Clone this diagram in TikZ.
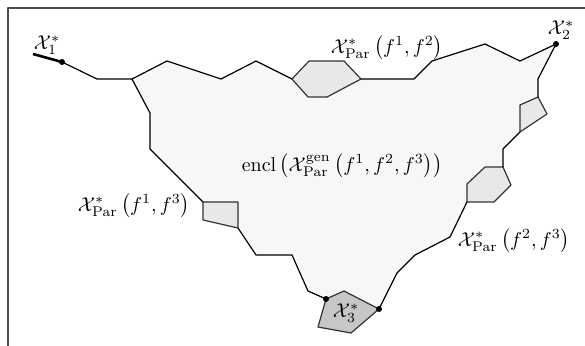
\documentclass[tikz,border=0pt]{standalone}
\begin{document}
\begin{tikzpicture}[x=0.5pt,y=-0.5pt,line join=round,
  edge/.style={line width=0.6pt,black},
  piece/.style={draw=black!80,line width=0.6pt,fill=black!9},
  dotmark/.style={circle,fill=black,inner sep=0pt,minimum size=3pt},
  lab/.style={inner sep=0pt}]
\useasboundingbox (0,0) rectangle (585,345);
\clip (0,0) rectangle (585,345);
\draw[black!70,line width=0.6pt] (8,8) rectangle (600,360);
% key points
\coordinate (x1) at (62,62);
\coordinate (x2) at (556,44);
\coordinate (x3a) at (326,299);
\coordinate (x3b) at (379,309);
\coordinate (tl) at (132,79);
% region fill
\fill[black!3] (tl) -- (167,61) -- (221,79) -- (256,61) -- (292,79) -- (361,79) -- (414,79) -- (432,61) -- (485,44) -- (520,61) -- (x2) -- (538,79) -- (538,97) -- (520,105) -- (520,132) -- (503,149) -- (503,167) -- (485,167) -- (467,184) -- (467,202) -- (450,237) -- (415,255) -- (397,273) -- (x3b) -- (344,291) -- (x3a) -- (308,291) -- (292,255) -- (256,255) -- (238,228) -- (238,202) -- (203,202) -- (150,149) -- (150,113) -- cycle;
% pieces
\filldraw[piece] (292,79) -- (309,61) -- (344,61) -- (361,79) -- (327,97) -- (308,97) -- cycle;
\filldraw[piece] (538,97) -- (547,114) -- (520,132) -- (520,105) -- cycle;
\filldraw[piece] (467,184) -- (485,167) -- (503,167) -- (511,185) -- (494,202) -- (467,202) -- cycle;
\filldraw[piece] (203,202) -- (238,202) -- (238,228) -- (203,220) -- cycle;
\filldraw[piece,fill=black!22] (x3a) -- (344,291) -- (x3b) -- (351,333) -- (318,327) -- cycle;
% edges
\draw[edge] (x1) -- (97,79) -- (tl) -- (167,61) -- (221,79) -- (256,61) -- (292,79);
\draw[edge] (361,79) -- (414,79) -- (432,61) -- (485,44) -- (520,61) -- (x2);
\draw[edge] (x2) -- (538,79) -- (538,97);
\draw[edge] (520,132) -- (503,149) -- (503,167);
\draw[edge] (467,202) -- (450,237) -- (415,255) -- (397,273) -- (x3b);
\draw[edge] (tl) -- (150,113) -- (150,149) -- (203,202);
\draw[edge] (238,228) -- (256,255) -- (292,255) -- (308,291) -- (x3a);
\draw[line width=1.3pt] (33,54) -- (x1);
% dots
\node[dotmark] (d1) at (x1) {};
\node[dotmark] (d2) at (x2) {};
\node[dotmark] (d3) at (x3a) {};
\node[dotmark] (d4) at (x3b) {};
% labels
\node[lab] (l1) at (47,45) {$\mathcal{X}_1^*$};
\node[lab] (l2) at (561,30) {$\mathcal{X}_2^*$};
\node[lab] (l3) at (346,313) {$\mathcal{X}_3^*$};
\node[lab] (l12) at (387,48) {$\mathcal{X}^*_{\mathrm{Par}}\left(f^1,f^2\right)$};
\node[lab] (l13) at (134,206) {$\mathcal{X}^*_{\mathrm{Par}}\left(f^1,f^3\right)$};
\node[lab] (l23) at (514,241) {$\mathcal{X}^*_{\mathrm{Par}}\left(f^2,f^3\right)$};
\node[lab] (enc) at (342,166) {$\mathrm{encl}\left(\mathcal{X}^{\mathrm{gen}}_{\mathrm{Par}}\left(f^1,f^2,f^3\right)\right)$};
\end{tikzpicture}
\end{document}
